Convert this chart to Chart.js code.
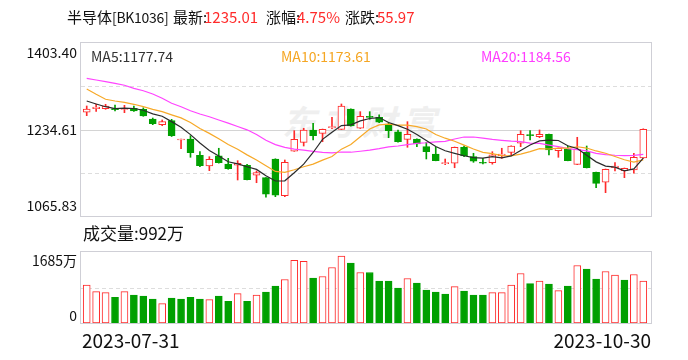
<!DOCTYPE html>
<html>
<head>
<meta charset="utf-8">
<script src="https://cdn.jsdelivr.net/npm/chart.js@4.4.0/dist/chart.umd.min.js"></script>
<style>
  body { margin: 0; background: #fff; }
  #wrap { position: relative; width: 688px; height: 360px; overflow: hidden;
          font-family: "Noto Sans CJK SC", "Liberation Sans", sans-serif; color: #111; }
  #wrap canvas { position: absolute; left: 0; top: 0; }
  .t { position: absolute; white-space: nowrap; line-height: 1; }
  .r { color: #ff2a2a; }
  .ax { font-size: 14px; right: 611px; text-align: right; }
  #mark { left: 282px; top: 104px; font-size: 34px; font-weight: bold; font-style: italic;
          color: #efefef; letter-spacing: 6px; }
</style>
</head>
<body>
<div id="wrap">
  <div class="t" id="mark">东方财富</div>
  <canvas id="price" width="688" height="360"></canvas>
  <canvas id="volume" width="688" height="360"></canvas>

  <div class="t" style="left:67px;top:9px;font-size:15px">半导体<span style="font-size:14px;letter-spacing:-0.3px">[BK1036]</span></div>
  <div class="t" style="left:173px;top:9px;font-size:15px">最新:</div>
  <div class="t r" style="left:204px;top:9px;font-size:15px">1235.01</div>
  <div class="t" style="left:266px;top:9px;font-size:15px">涨幅:</div>
  <div class="t r" style="left:297px;top:9px;font-size:15px">4.75%</div>
  <div class="t" style="left:345px;top:9px;font-size:15px">涨跌:</div>
  <div class="t r" style="left:377px;top:9px;font-size:15px">55.97</div>

  <div class="t" style="left:91px;top:49px;font-size:14px;color:#333">MA5:1177.74</div>
  <div class="t" style="left:281px;top:49px;font-size:14px;color:#f5a623">MA10:1173.61</div>
  <div class="t" style="left:481px;top:49px;font-size:14px;color:#ff3cff">MA20:1184.56</div>

  <div class="t ax" id="p2" style="top:45px"></div>
  <div class="t ax" id="p1" style="top:122px"></div>
  <div class="t ax" id="p0" style="top:198px"></div>

  <div class="t" style="left:83px;top:224px;font-size:17px">成交量:992万</div>
  <div class="t ax" id="v1" style="top:253px"></div>
  <div class="t ax" id="v0" style="top:308px"></div>

  <div class="t" id="d0" style="left:82px;top:330px;font-size:19px"></div>
  <div class="t" id="d1" style="right:37px;top:330px;font-size:19px"></div>
</div>

<script>
const dates = [
  '2023-07-31',
  '2023-08-01', '2023-08-02', '2023-08-03', '2023-08-04', '2023-08-07', '2023-08-08', '2023-08-09', '2023-08-10',
  '2023-08-11', '2023-08-14', '2023-08-15', '2023-08-16', '2023-08-17', '2023-08-18', '2023-08-21', '2023-08-22',
  '2023-08-23', '2023-08-24', '2023-08-25', '2023-08-28', '2023-08-29', '2023-08-30', '2023-08-31',
  '2023-09-01', '2023-09-04', '2023-09-05', '2023-09-06', '2023-09-07', '2023-09-08', '2023-09-11', '2023-09-12',
  '2023-09-13', '2023-09-14', '2023-09-15', '2023-09-18', '2023-09-19', '2023-09-20', '2023-09-21', '2023-09-22',
  '2023-09-25', '2023-09-26', '2023-09-27', '2023-09-28',
  '2023-10-09', '2023-10-10', '2023-10-11', '2023-10-12', '2023-10-13', '2023-10-16', '2023-10-17', '2023-10-18',
  '2023-10-19', '2023-10-20', '2023-10-23', '2023-10-24', '2023-10-25', '2023-10-26', '2023-10-27', '2023-10-30'
];

const opens = [
  1268.2, 1275.2, 1275.2, 1275.0, 1274.0, 1276.0, 1274.0, 1255.1, 1244.0, 1251.8,
  1214.2, 1216.1, 1184.3, 1163.4, 1183.0, 1167.3, 1164.8, 1164.8, 1145.3, 1140.6,
  1177.1, 1105.5, 1192.1, 1209.6, 1233.7, 1227.2, 1238.2, 1235.0, 1274.6, 1237.0,
  1260.4, 1258.4, 1243.4, 1230.3, 1215.5, 1216.1, 1201.1, 1186.8, 1167.9, 1168.7,
  1199.9, 1181.6, 1169.9, 1169.9, 1183.5, 1190.1, 1207.7, 1224.6, 1220.6, 1225.3,
  1193.3, 1196.0, 1166.7, 1190.1, 1151.1, 1131.6, 1160.0, 1154.3, 1155.6, 1179.04
];
const highs = [
  1280.5, 1284.4, 1283.8, 1282.4, 1281.8, 1280.5, 1277.0, 1257.0, 1253.2, 1254.5,
  1216.0, 1222.5, 1191.3, 1181.6, 1198.0, 1178.4, 1173.8, 1166.7, 1153.7, 1141.0,
  1177.5, 1175.1, 1232.3, 1237.0, 1246.7, 1235.5, 1258.4, 1284.4, 1275.0, 1269.4,
  1269.4, 1263.0, 1247.9, 1233.7, 1249.9, 1216.5, 1209.6, 1199.9, 1177.0, 1200.5,
  1202.4, 1188.2, 1178.4, 1191.3, 1198.0, 1202.8, 1232.3, 1232.3, 1233.7, 1225.8,
  1198.5, 1202.4, 1219.4, 1202.4, 1151.5, 1157.5, 1169.9, 1159.5, 1188.2, 1236.0
];
const lows = [
  1261.6, 1270.1, 1274.0, 1270.7, 1267.4, 1270.0, 1260.4, 1244.0, 1242.0, 1221.0,
  1197.2, 1180.4, 1162.0, 1154.3, 1169.0, 1157.0, 1136.1, 1136.0, 1130.8, 1102.4,
  1103.5, 1103.5, 1192.0, 1202.4, 1214.2, 1210.8, 1236.2, 1234.5, 1241.0, 1236.5,
  1254.5, 1248.0, 1218.6, 1210.0, 1199.9, 1201.1, 1177.1, 1173.5, 1166.0, 1160.0,
  1181.6, 1170.6, 1167.3, 1167.0, 1178.4, 1185.0, 1201.1, 1214.2, 1218.6, 1184.9,
  1180.4, 1173.5, 1166.0, 1159.5, 1121.1, 1111.4, 1153.7, 1140.6, 1149.2, 1178.5
];
const closes = [
  1274.6, 1278.5, 1280.5, 1273.3, 1275.2, 1270.7, 1261.0, 1245.9, 1249.9, 1222.5,
  1215.5, 1189.4, 1164.0, 1176.5, 1169.9, 1158.1, 1168.7, 1136.7, 1150.4, 1108.5,
  1106.5, 1170.6, 1215.5, 1233.7, 1222.5, 1235.0, 1239.5, 1280.5, 1241.5, 1260.4,
  1258.4, 1248.7, 1232.3, 1210.8, 1225.3, 1206.3, 1191.3, 1173.8, 1169.3, 1199.9,
  1183.0, 1172.6, 1168.7, 1185.0, 1186.5, 1202.4, 1225.3, 1222.5, 1225.3, 1194.6,
  1198.0, 1173.8, 1196.0, 1160.0, 1129.6, 1157.0, 1163.4, 1158.9, 1180.4, 1235.01
];
// 成交量（万）
const volumes = [
  898, 746, 722, 612, 746, 660, 636, 565, 460, 589,
  565, 612, 565, 555, 636, 517, 698, 517, 660, 732,
  875, 1032, 1485, 1461, 1065, 1103, 1318, 1590, 1423, 1199,
  1199, 994, 994, 827, 1056, 946, 779, 732, 684, 865,
  755, 660, 660, 722, 722, 898, 1175, 936, 994, 922,
  770, 875, 1365, 1280, 1041, 1222, 1137, 1017, 1151, 992
];

const ma5Head = [1290.2, 1284.4, 1279.1, 1275.2];
const ma10Head = [1313.7, 1303.3, 1293.6, 1290.2, 1287.7, 1283.8, 1279.1, 1274.0, 1269.4];
const ma20Head = [1334.5, 1331.2, 1327.9, 1324.7, 1320.9, 1315.0, 1310.3, 1303.9, 1295.5, 1285.8,
                  1279.1, 1271.3, 1264.9, 1259.5, 1253.2, 1247.0, 1240.5, 1234.0, 1225.0];

const priceTicks = ['1065.83', '1234.61', '1403.40'];
const volumeTicks = ['0', '1685万'];

const RED = '#ff2a2a';
const GREEN = '#00a000';

function movingAvg(n, head) {
  return closes.map((c, i) => {
    if (i < n - 1) return head[i];
    let s = 0;
    for (let k = i - n + 1; k <= i; k++) s += closes[k];
    return s / n;
  });
}

const candleUp = closes.map((c, i) => c >= opens[i]);
const volUp = closes.map((c, i) => i === 0 ? c >= opens[0] : c >= closes[i - 1]);

// 边框 + 网格线
const panelFrame = {
  id: 'panelFrame',
  beforeDatasetsDraw(chart, args, opts) {
    const { ctx, chartArea: a, scales: { y } } = chart;
    ctx.save();
    ctx.lineWidth = 1;
    opts.lines.forEach(l => {
      const py = Math.round(y.getPixelForValue(l.v)) + 0.5;
      ctx.beginPath();
      ctx.setLineDash(l.dash ? [4, 3] : []);
      ctx.strokeStyle = l.dash ? '#dddddd' : '#d4d4d4';
      ctx.moveTo(81, py);
      ctx.lineTo(651, py);
      ctx.stroke();
    });
    ctx.setLineDash([]);
    ctx.strokeStyle = '#cfcfd6';
    ctx.strokeRect(80.5, Math.round(a.top) - 0.5, 571, Math.round(a.bottom - a.top) + 1);
    ctx.restore();
  }
};
Chart.register(panelFrame);

const common = {
  responsive: false,
  animation: false,
  devicePixelRatio: 1,
  events: [],
  plugins: { legend: { display: false }, tooltip: { enabled: false } }
};

const pMin = parseFloat(priceTicks[0]);
const pMax = parseFloat(priceTicks[2]);
const pMid = parseFloat(priceTicks[1]);

new Chart(document.getElementById('price'), {
  type: 'bar',
  data: {
    labels: dates,
    datasets: [
      { type: 'line', data: movingAvg(5, ma5Head), borderColor: '#2b2b2b', borderWidth: 1.2,
        pointRadius: 0, order: 0 },
      { type: 'line', data: movingAvg(10, ma10Head), borderColor: '#f7a928', borderWidth: 1.2,
        pointRadius: 0, order: 0 },
      { type: 'line', data: movingAvg(20, ma20Head), borderColor: '#ff44ff', borderWidth: 1.2,
        pointRadius: 0, order: 0 },
      { data: opens.map((o, i) => [o, closes[i]]),
        backgroundColor: candleUp.map(u => u ? '#ffffff' : GREEN),
        borderColor: candleUp.map(u => u ? RED : GREEN),
        borderWidth: 1, borderSkipped: false, barThickness: 7, minBarLength: 1,
        grouped: false, order: 1 },
      { data: lows.map((l, i) => [l, highs[i]]),
        backgroundColor: candleUp.map(u => u ? RED : GREEN),
        barThickness: 1, grouped: false, order: 2 }
    ]
  },
  options: {
    ...common,
    layout: { padding: { left: 82, right: 40, top: 43, bottom: 144 } },
    scales: {
      x: { display: false, offset: true },
      y: { display: false, min: pMin, max: pMax }
    },
    plugins: {
      ...common.plugins,
      panelFrame: { lines: [
        { v: pMin + (pMax - pMin) * 0.25, dash: true },
        { v: pMid, dash: false },
        { v: pMin + (pMax - pMin) * 0.75, dash: true }
      ] }
    }
  }
});

const vMax = parseFloat(volumeTicks[1]);

new Chart(document.getElementById('volume'), {
  type: 'bar',
  data: {
    labels: dates,
    datasets: [{
      data: volumes,
      backgroundColor: volUp.map(u => u ? '#ffffff' : GREEN),
      borderColor: volUp.map(u => u ? RED : GREEN),
      borderWidth: 1, borderSkipped: false, barThickness: 7
    }]
  },
  options: {
    ...common,
    layout: { padding: { left: 82, right: 40, top: 252, bottom: 37 } },
    scales: {
      x: { display: false, offset: true },
      y: { display: false, min: 0, max: vMax }
    },
    plugins: {
      ...common.plugins,
      panelFrame: { lines: [{ v: vMax / 2, dash: true }] }
    }
  }
});

document.getElementById('p0').textContent = priceTicks[0];
document.getElementById('p1').textContent = priceTicks[1];
document.getElementById('p2').textContent = priceTicks[2];
document.getElementById('v0').textContent = volumeTicks[0];
document.getElementById('v1').textContent = volumeTicks[1];
document.getElementById('d0').textContent = dates[0];
document.getElementById('d1').textContent = dates[dates.length - 1];
</script>
</body>
</html>
